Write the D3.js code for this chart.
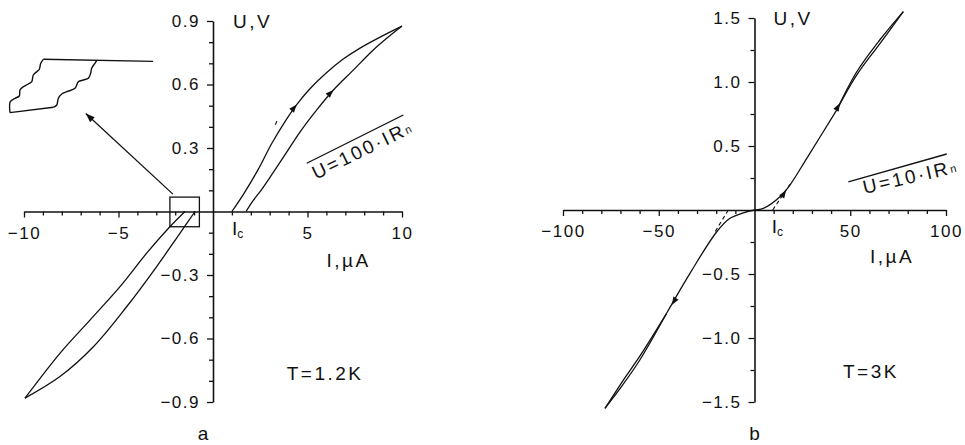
<!DOCTYPE html>
<html>
<head>
<meta charset="utf-8">
<script src="https://cdn.jsdelivr.net/npm/d3@7"></script>
<style>
  body { margin: 0; background: #fff; }
  svg { display: block; font-family: "Liberation Sans", Arial, sans-serif; }
  .tick text { font-size: 17px; letter-spacing: 1.5px; fill: #111; }
  .lbl { font-size: 19px; letter-spacing: 2.5px; fill: #111; }
</style>
</head>
<body>
<svg id="chart" width="965" height="445"></svg>
<script>
// ---- panel a  (T = 1.2 K), I in uA, U in V
const aXMajor = [-10, -5, 5, 10];
const aYMajor = [-0.9, -0.6, -0.3, 0.3, 0.6, 0.9];
// rising branch from Ic to the top, then the return branch
const aUp = [[1.0, 0], [1.6, 0.08], [2.4, 0.2], [3.1, 0.32], [3.81, 0.425], [4.43, 0.505], [5.13, 0.58],
  [5.93, 0.65], [6.89, 0.72], [7.78, 0.772], [8.84, 0.824], [10.0, 0.876]];
const aDown = [[10.0, 0.876], [9.19, 0.818], [8.48, 0.763], [7.42, 0.668], [6.37, 0.574], [5.49, 0.48],
  [4.6, 0.375], [3.9, 0.28], [3.19, 0.185], [2.58, 0.105], [2.13, 0.052], [1.75, 0]];
const aNegOuter = [[-1.48, 0], [-2.28, -0.072], [-3.51, -0.197], [-4.92, -0.355], [-6.51, -0.513], [-8.1, -0.67], [-9.95, -0.882]];
const aNegInner = [[-9.95, -0.882], [-8.1, -0.78], [-6.33, -0.639], [-4.57, -0.45], [-2.98, -0.26], [-1.75, -0.103], [-0.95, 0]];
const aRef = [[4.96, 0.228], [10.07, 0.456]];           // U = 100 I Rn
const aBox = [[-2.28, 0.068], [-0.72, -0.072]];          // zoomed region
const aArrows = [[4.43, 0.505, 5.13, 0.58], [6.37, 0.574, 7.42, 0.668]];
const aDash = [[3.3, 0.41], [3.42, 0.435]];

// inset sketch of the zoomed region (inset units 0..100)
const insetLeft = [[0, 99.4], [0.2, 79], [3.5, 72.8], [6.5, 68.5], [7, 57.4], [9.3, 51.3], [12.8, 46.3],
  [15.2, 42], [16.3, 29.6], [18.7, 23.5], [20.5, 19.1], [21.5, 8], [23.3, 0.6]];
const insetRight = [[30.3, 89.4], [32.7, 85.2], [33.8, 72.8], [36.2, 64.8], [39.7, 60.6], [45.5, 54.3],
  [47.8, 42], [51.3, 38.9], [54.8, 35.7], [56.4, 26.5], [57.1, 17.2], [59.4, 8], [60.6, 3.1]];
const insetTop = [[23.3, 0.6], [100, 4.4]];
const insetBottom = [[0, 99.4], [30.3, 89.4]];

// ---- panel b  (T = 3 K)
const bXMajor = [-100, -50, 50, 100];
const bYMajor = [-1.5, -1.0, -0.5, 0.5, 1.0, 1.5];
const bCore = [[-45.9, -0.807], [-33.7, -0.495], [-19.7, -0.17], [-12.8, -0.065], [-5.8, -0.022], [0, 0],
  [4.6, 0.013], [13.3, 0.104], [18.5, 0.195], [27.3, 0.404], [42.9, 0.78]];
const bPosA = [[42.9, 0.78], [53.4, 1.08], [65.5, 1.33], [77.7, 1.55]];
const bPosB = [[42.9, 0.78], [53.4, 1.055], [65.5, 1.30], [77.7, 1.55]];
const bNegA = [[-45.9, -0.807], [-59.8, -1.17], [-69.0, -1.37], [-78.1, -1.55]];
const bNegB = [[-45.9, -0.807], [-59.8, -1.14], [-69.0, -1.34], [-78.1, -1.55]];
const bDashPos = [[9.5, 0], [18.5, 0.2]];
const bDashNeg = [[-13.7, 0], [-20.6, -0.17]];
const bRef = [[49, 0.22], [100.4, 0.4375]];              // U = 10 I Rn
const bArrows = [[44.6, 0.834, 53.4, 1.07], [-43.2, -0.742, -45.9, -0.807], [16.5, 0.155, 18.5, 0.2]];

const svg = d3.select('#chart');

function arrowHead(g, p, q, size) {
  const ang = Math.atan2(q[1] - p[1], q[0] - p[0]) * 180 / Math.PI;
  g.append('path')
    .attr('d', `M0,0 L${-size},${-size * 0.38} L${-size},${size * 0.38} Z`)
    .attr('fill', '#111')
    .attr('transform', `translate(${p[0]},${p[1]}) rotate(${ang})`);
}

function drawPanel(cfg) {
  const x = d3.scaleLinear().domain(cfg.xDomain).range(cfg.xRange);
  const y = d3.scaleLinear().domain(cfg.yDomain).range(cfg.yRange);
  const g = svg.append('g');

  // minor ticks
  g.append('g')
    .attr('transform', `translate(0,${y(0)})`)
    .call(d3.axisBottom(x).tickValues(cfg.xMinor).tickSize(4).tickSizeOuter(0).tickFormat(''))
    .call(s => s.select('.domain').remove());
  g.append('g')
    .attr('transform', `translate(${x(0)},0)`)
    .call(d3.axisLeft(y).tickValues(cfg.yMinor).tickSize(4).tickSizeOuter(0).tickFormat(''))
    .call(s => s.select('.domain').remove());

  // major ticks with labels
  g.append('g')
    .attr('transform', `translate(0,${y(0)})`)
    .call(d3.axisBottom(x).tickValues(cfg.xMajor).tickSize(6).tickSizeOuter(0).tickPadding(9).tickFormat(d3.format('d')));
  g.append('g')
    .attr('transform', `translate(${x(0)},0)`)
    .call(d3.axisLeft(y).tickValues(cfg.yMajor).tickSize(6).tickSizeOuter(0).tickPadding(7).tickFormat(d3.format('.1f')));

  g.selectAll('.domain').attr('stroke', '#111').attr('stroke-width', 1.6);
  g.selectAll('.tick line').attr('stroke', '#111').attr('stroke-width', 1.3);
  g.selectAll('.tick text').attr('font-family', null).attr('font-size', null);

  const line = d3.line().x(d => x(d[0])).y(d => y(d[1])).curve(d3.curveCatmullRom.alpha(0.5));
  const straight = d3.line().x(d => x(d[0])).y(d => y(d[1]));

  cfg.curves.forEach(c => {
    g.append('path').attr('d', line(c)).attr('fill', 'none')
      .attr('stroke', '#111').attr('stroke-width', 1.3);
  });
  cfg.dashes.forEach(c => {
    g.append('path').attr('d', straight(c)).attr('fill', 'none')
      .attr('stroke', '#111').attr('stroke-width', 1.1).attr('stroke-dasharray', '4,3');
  });
  // reference line U = k I Rn
  g.append('path').attr('d', straight(cfg.ref)).attr('fill', 'none')
    .attr('stroke', '#111').attr('stroke-width', 1.3);

  cfg.arrows.forEach(a => arrowHead(g, [x(a[0]), y(a[1])], [x(a[2]), y(a[3])], 8));

  // axis names
  g.append('text').attr('class', 'lbl')
    .attr('x', x(0) + cfg.uvDx).attr('y', y(cfg.yDomain[1]) + 7).text('U,V');
  g.append('text').attr('class', 'lbl')
    .attr('x', x(cfg.iLabel[0])).attr('y', y(0) + cfg.iLabel[1]).text('I,\u00b5A');
  g.append('text').attr('class', 'lbl')
    .attr('x', x(cfg.tLabel[0])).attr('y', y(cfg.tLabel[1])).text(cfg.tText);
  g.append('text').attr('class', 'lbl').attr('text-anchor', 'middle').style('letter-spacing', '0px')
    .attr('x', x(0) + cfg.panelDx).attr('y', 440).text(cfg.panel);

  const ic = g.append('text').attr('class', 'lbl').style('letter-spacing', '0px')
    .attr('x', x(cfg.icLabel)).attr('y', y(0) + 23);
  ic.append('tspan').text('I');
  ic.append('tspan').attr('font-size', 12).attr('dy', 3).text('c');

  const rt = g.append('text').attr('class', 'lbl').attr('font-size', 17).style('letter-spacing', '2.5px')
    .attr('transform', `translate(${x(cfg.refText[0])},${y(cfg.refText[1])}) rotate(${cfg.refText[2]})`);
  rt.append('tspan').text(cfg.refLabel);
  rt.append('tspan').attr('font-size', 11).attr('dy', -1).text('n');

  return { g, x, y };
}

const pa = drawPanel({
  xDomain: [-10, 10], xRange: [24, 402],
  yDomain: [-0.9, 0.9], yRange: [402, 21],
  xMajor: aXMajor, yMajor: aYMajor,
  xMinor: d3.range(-10, 11).filter(d => d !== 0 && !aXMajor.includes(d)),
  yMinor: d3.range(-9, 10).map(d => d / 10).filter(d => d !== 0 && !aYMajor.some(m => Math.abs(m - d) < 1e-9)),
  curves: [aUp, aDown, aNegOuter, aNegInner],
  dashes: [aDash],
  ref: aRef, refText: [5.45, 0.15, -26], refLabel: 'U=100\u00b7IR',
  arrows: aArrows,
  uvDx: 20, iLabel: [6.0, 55], tLabel: [3.9, -0.795], tText: 'T=1.2K',
  icLabel: 1.0, panel: 'a', panelDx: -10
});

// zoom box, arrow and inset in panel a
{
  const { g, x, y } = pa;
  g.append('rect')
    .attr('x', x(aBox[0][0])).attr('y', y(aBox[0][1]))
    .attr('width', x(aBox[1][0]) - x(aBox[0][0])).attr('height', y(aBox[1][1]) - y(aBox[0][1]))
    .attr('fill', 'none').attr('stroke', '#111').attr('stroke-width', 1.3);

  const ix = d3.scaleLinear().domain([0, 100]).range([10, 153]);
  const iy = d3.scaleLinear().domain([0, 100]).range([59, 113]);
  const iline = d3.line().x(d => ix(d[0])).y(d => iy(d[1])).curve(d3.curveCatmullRom.alpha(0.5));
  [insetLeft, insetRight, insetTop, insetBottom].forEach(c => {
    g.append('path').attr('d', iline(c)).attr('fill', 'none')
      .attr('stroke', '#111').attr('stroke-width', 1.4);
  });

  const from = [x(aBox[0][0]) + 3, y(aBox[0][1]) - 3];
  const to = [ix(53), iy(101)];
  g.append('line').attr('x1', from[0]).attr('y1', from[1]).attr('x2', to[0]).attr('y2', to[1])
    .attr('stroke', '#111').attr('stroke-width', 1.3);
  arrowHead(g, to, [to[0] - (from[0] - to[0]), to[1] - (from[1] - to[1])], 9);
}

drawPanel({
  xDomain: [-100, 100], xRange: [563, 946],
  yDomain: [-1.5, 1.5], yRange: [402, 18],
  xMajor: bXMajor, yMajor: bYMajor,
  xMinor: d3.range(-100, 101, 10).filter(d => d !== 0 && !bXMajor.includes(d)),
  yMinor: d3.range(-6, 7).map(d => d * 0.25).filter(d => d !== 0 && !bYMajor.includes(d)),
  curves: [bCore, bPosA, bPosB, bNegA, bNegB],
  dashes: [bDashPos, bDashNeg],
  ref: bRef, refText: [57.5, 0.125, -13], refLabel: 'U=10\u00b7IR',
  arrows: bArrows,
  uvDx: 19, iLabel: [60.3, 53], tLabel: [46.2, -1.3125], tText: 'T=3K',
  icLabel: 9, panel: 'b', panelDx: 0
});
</script>
</body>
</html>
